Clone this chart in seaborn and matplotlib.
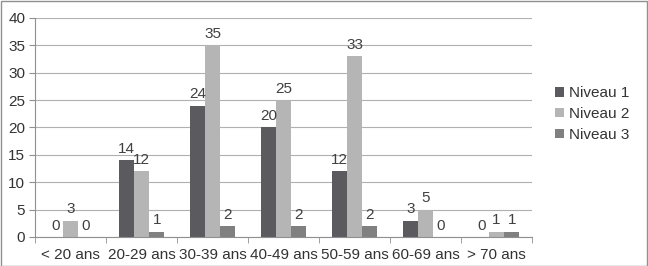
import matplotlib
matplotlib.use("Agg")
import matplotlib.pyplot as plt
import seaborn as sns
import pandas as pd
import numpy as np

categories = ["< 20 ans", "20-29 ans", "30-39 ans", "40-49 ans", "50-59 ans", "60-69 ans", "> 70 ans"]
niveau1 = [0, 14, 24, 20, 12, 3, 0]
niveau2 = [3, 12, 35, 25, 33, 5, 1]
niveau3 = [0, 1, 2, 2, 2, 0, 1]
series_names = ["Niveau 1", "Niveau 2", "Niveau 3"]
yticks = [0, 5, 10, 15, 20, 25, 30, 35, 40]

df = pd.DataFrame({
    "cat": categories * 3,
    "val": niveau1 + niveau2 + niveau3,
    "serie": [series_names[0]] * 7 + [series_names[1]] * 7 + [series_names[2]] * 7,
})

sns.set_style("white")
plt.rcParams["font.family"] = ["Liberation Sans", "DejaVu Sans"]
FS = 11

fig = plt.figure(figsize=(6.48, 2.66), dpi=100)
ax = fig.add_axes([35 / 648, 29 / 266, (532 - 35) / 648, (237 - 18) / 266])

palette = ["#5b5b5f", "#b5b5b5", "#808080"]
sns.barplot(data=df, x="cat", y="val", hue="serie", palette=palette, width=0.64,
            ax=ax, saturation=1, order=categories, hue_order=series_names,
            linewidth=0, edgecolor="none")

for c in ax.containers:
    ax.bar_label(c, fmt="%g", padding=3, fontsize=FS, color="#404040")

ax.set_ylim(0, 40)
ax.set_yticks(yticks)
ax.set_xlim(-0.5, 6.5)
ax.set_xlabel("")
ax.set_ylabel("")
ax.yaxis.grid(True, color="#b0b0b0", linewidth=0.8)
ax.set_axisbelow(True)
for s in ["top", "right"]:
    ax.spines[s].set_visible(False)
for s in ["left", "bottom"]:
    ax.spines[s].set_color("#909090")
    ax.spines[s].set_linewidth(0.8)
ax.tick_params(axis="y", length=4, color="#909090", labelcolor="#333333", labelsize=FS, left=True, pad=3)
ax.tick_params(axis="x", length=0, labelcolor="#333333", labelsize=FS, pad=8)
ax.set_xticks(np.arange(-0.5, 7, 1), minor=True)
ax.tick_params(axis="x", which="minor", length=4, color="#909090", bottom=True)

leg = ax.legend(loc="center left", bbox_to_anchor=(549 / 648, 152 / 266),
                bbox_transform=fig.transFigure, frameon=False, fontsize=FS,
                handlelength=0.6, handleheight=0.6, handletextpad=0.3, labelspacing=0.45,
                borderaxespad=0)
for t in leg.get_texts():
    t.set_color("#333333")

fig.patches.append(plt.Rectangle((0.5 / 648, 0.5 / 266), 646.5 / 648, 264.5 / 266,
                                 transform=fig.transFigure, fill=False,
                                 edgecolor="#909090", linewidth=1))

fig.savefig("out.png", dpi=100)
